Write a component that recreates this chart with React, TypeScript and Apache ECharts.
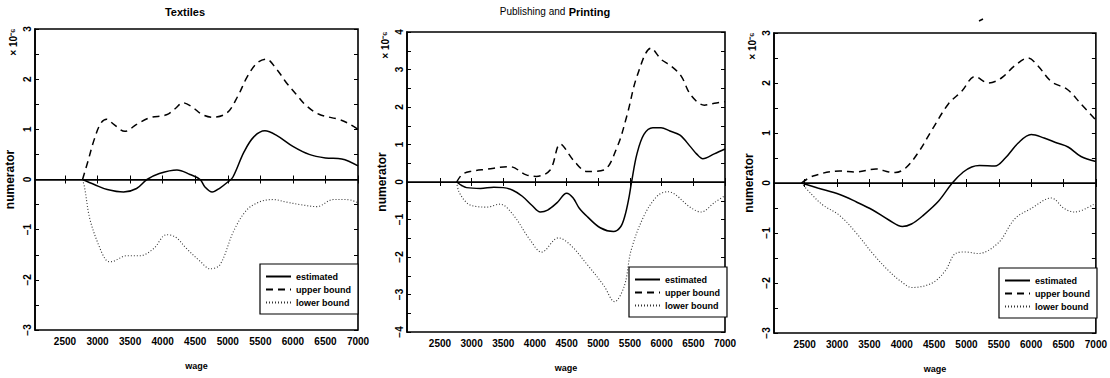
import React, { useEffect, useRef } from 'react';
import * as echarts from 'echarts';

const seriesNames = ['estimated', 'upper bound', 'lower bound'];
const wageTicks = [2500, 3000, 3500, 4000, 4500, 5000, 5500, 6000, 6500, 7000];
const panelTitles = ['Textiles', 'Publishing and Printing', ''];
const scaleNote = '× 10⁻⁶';

// Textiles
const textilesEstimated = [
  [2770, 0], [2950, -0.1], [3150, -0.2], [3400, -0.25], [3600, -0.18], [3760, 0], [3950, 0.12],
  [4220, 0.19], [4420, 0.1], [4575, 0], [4650, -0.15], [4760, -0.25], [4880, -0.17], [5000, -0.05],
  [5080, 0.05], [5250, 0.55], [5400, 0.85], [5570, 0.97], [5750, 0.88], [6000, 0.66], [6250, 0.5],
  [6500, 0.43], [6750, 0.41], [7000, 0.27],
];
const textilesUpper = [
  [2770, 0], [2850, 0.35], [2950, 0.8], [3050, 1.12], [3140, 1.2], [3250, 1.1], [3420, 0.96],
  [3600, 1.1], [3800, 1.23], [4060, 1.29], [4200, 1.42], [4310, 1.53], [4450, 1.45], [4600, 1.3],
  [4770, 1.24], [4990, 1.33], [5150, 1.65], [5300, 2.05], [5450, 2.32], [5590, 2.4], [5750, 2.2],
  [5900, 1.93], [6050, 1.7], [6200, 1.48], [6400, 1.3], [6700, 1.2], [6850, 1.12], [7000, 1.0],
];
const textilesLower = [
  [2770, 0], [2800, -0.15], [2885, -0.8], [3040, -1.38], [3140, -1.62], [3200, -1.64],
  [3450, -1.52], [3650, -1.52], [3860, -1.38], [4060, -1.1], [4200, -1.15], [4370, -1.38],
  [4575, -1.63], [4730, -1.78], [4880, -1.7], [5090, -1.03], [5290, -0.61], [5500, -0.44],
  [5700, -0.4], [5900, -0.45], [6110, -0.5], [6370, -0.54], [6620, -0.4], [6830, -0.4], [7000, -0.46],
];

// Publishing and Printing
const printingEstimated = [
  [2764, 0], [2850, -0.1], [2920, -0.15], [3140, -0.17], [3350, -0.14], [3500, -0.15],
  [3650, -0.22], [3800, -0.38], [3950, -0.62], [4085, -0.8], [4200, -0.75], [4350, -0.55],
  [4500, -0.3], [4600, -0.42], [4700, -0.7], [4830, -0.93], [5030, -1.22], [5240, -1.32],
  [5350, -1.2], [5420, -0.9], [5480, -0.45], [5525, 0], [5610, 0.75], [5720, 1.27], [5860, 1.45],
  [5990, 1.45], [6130, 1.36], [6290, 1.25], [6450, 0.95], [6550, 0.75], [6650, 0.62],
  [6830, 0.75], [7000, 0.88],
];
const printingUpper = [
  [2764, 0], [2850, 0.2], [2974, 0.28], [3237, 0.34], [3600, 0.41], [3863, 0.19], [4020, 0.15],
  [4240, 0.32], [4400, 1.01], [4608, 0.58], [4824, 0.28], [5086, 0.32], [5297, 0.93], [5455, 1.79],
  [5613, 2.83], [5834, 3.57], [5992, 3.27], [6150, 3.09], [6306, 2.83], [6464, 2.31], [6675, 2.05],
  [6833, 2.1], [7000, 2.14],
];
const printingLower = [
  [2764, 0], [2800, -0.26], [2921, -0.55], [3026, -0.64], [3237, -0.67], [3448, -0.59],
  [3658, -0.88], [3921, -1.54], [4106, -1.87], [4369, -1.49], [4560, -1.68], [4824, -2.2],
  [5086, -2.76], [5256, -3.19], [5413, -2.76], [5518, -1.82], [5728, -0.88], [5940, -0.36],
  [6097, -0.26], [6464, -0.69], [6622, -0.8], [6833, -0.55], [7000, -0.36],
];

// Third panel
const thirdEstimated = [
  [2450, 0], [2700, -0.1], [3040, -0.23], [3300, -0.38], [3550, -0.54], [3800, -0.74],
  [4010, -0.87], [4150, -0.82], [4320, -0.66], [4570, -0.36], [4780, 0], [4950, 0.22],
  [5080, 0.32], [5200, 0.35], [5440, 0.34], [5600, 0.5], [5800, 0.8], [6000, 0.97], [6200, 0.9],
  [6400, 0.8], [6570, 0.72], [6770, 0.53], [7000, 0.43],
];
const thirdUpper = [
  [2450, 0], [2630, 0.14], [3040, 0.24], [3290, 0.22], [3600, 0.28], [3800, 0.22], [3900, 0.21],
  [4060, 0.3], [4260, 0.62], [4470, 1.07], [4720, 1.58], [4930, 1.84], [5130, 2.13], [5340, 2.0],
  [5540, 2.1], [5750, 2.35], [5950, 2.5], [6100, 2.35], [6310, 2.03], [6560, 1.87], [6770, 1.58],
  [7000, 1.26],
];
const thirdLower = [
  [2450, 0], [2600, -0.22], [2780, -0.44], [3040, -0.65], [3290, -0.99], [3550, -1.41],
  [3800, -1.76], [4000, -1.98], [4160, -2.09], [4470, -2.0], [4670, -1.76], [4830, -1.41],
  [4980, -1.38], [5180, -1.41], [5490, -1.2], [5750, -0.71], [6000, -0.51], [6310, -0.3],
  [6510, -0.51], [6670, -0.58], [7000, -0.4],
];

const FONT = "'Liberation Sans Narrow', 'Liberation Sans', Arial, sans-serif";

export default function App() {
  const ref = useRef<HTMLDivElement>(null);
  useEffect(() => {
    const chart = echarts.init(ref.current as HTMLDivElement, null, { renderer: 'svg' });
    const panels = [
      { grid: { left: 35, top: 29, width: 323, height: 301 }, xMin: 2040, yMin: -3, yMax: 3,
        data: [textilesEstimated, textilesUpper, textilesLower], legend: { left: 260, top: 264 } },
      { grid: { left: 407, top: 32, width: 318, height: 300 }, xMin: 1980, yMin: -4, yMax: 4,
        data: [printingEstimated, printingUpper, printingLower], legend: { left: 629, top: 267 } },
      { grid: { left: 774, top: 33, width: 322, height: 302 }, xMin: 2025, yMin: -3, yMax: 3,
        data: [thirdEstimated, thirdUpper, thirdLower], legend: { left: 999, top: 268 } },
    ];
    const lineStyles = [
      { color: '#000', width: 1.5, type: 'solid' },
      { color: '#000', width: 1.5, type: [7, 5] },
      { color: '#333', width: 1.1, type: [1, 2] },
    ];
    const grid: any[] = [];
    const xAxis: any[] = [];
    const yAxis: any[] = [];
    const series: any[] = [];
    const legend: any[] = [];
    const graphic: any[] = [];
    panels.forEach((p, i) => {
      grid.push({ ...p.grid, show: true, borderColor: '#000', borderWidth: 1.6, backgroundColor: 'transparent' });
      const tickStyle = { show: true, inside: true, length: 4, lineStyle: { color: '#000', width: 1 } };
      xAxis.push({
        type: 'value', gridIndex: i, min: p.xMin, max: 7000, position: 'bottom',
        axisLine: { show: true, lineStyle: { color: '#000', width: 1.6 } },
        splitLine: { show: false },
        axisTick: { ...tickStyle, customValues: wageTicks },
        axisLabel: {
          customValues: wageTicks, color: '#000', fontSize: 10, fontWeight: 'bold', fontFamily: FONT, margin: 6,
          formatter: (v: number) => String(v),
        },
        name: 'wage', nameLocation: 'middle', nameGap: 31,
        nameTextStyle: { color: '#000', fontSize: 9, fontWeight: 'bold', fontFamily: FONT },
      });
      xAxis.push({
        type: 'value', gridIndex: i, min: p.xMin, max: 7000, position: 'top',
        axisLine: { show: false }, splitLine: { show: false },
        axisTick: { ...tickStyle, customValues: wageTicks },
        axisLabel: { show: false },
      });
      yAxis.push({
        type: 'value', gridIndex: i, min: p.yMin, max: p.yMax, interval: 0.5, position: 'left',
        axisLine: { show: true, lineStyle: { color: '#000', width: 1.6 } },
        splitLine: { show: false },
        axisTick: tickStyle,
        axisLabel: {
          rotate: 90, margin: 3, color: '#000', fontSize: 10, fontWeight: 'bold', fontFamily: FONT,
          formatter: (v: number) => (Number.isInteger(v) ? (v < 0 ? '−' + -v : String(v)) : ''),
        },
        name: 'numerator', nameLocation: 'middle', nameGap: 19, nameRotate: 90,
        nameTextStyle: { color: '#000', fontSize: 12, fontWeight: 'bold', fontFamily: "'Liberation Sans', Arial, sans-serif" },
      });
      yAxis.push({
        type: 'value', gridIndex: i, min: p.yMin, max: p.yMax, interval: 0.5, position: 'right',
        axisLine: { show: false }, splitLine: { show: false },
        axisTick: tickStyle, axisLabel: { show: false },
      });
      p.data.forEach((d, k) => {
        const s: any = {
          type: 'line', name: seriesNames[k], xAxisIndex: 2 * i, yAxisIndex: 2 * i,
          data: d, symbol: 'none', showSymbol: false, smooth: 0.35,
          lineStyle: lineStyles[k], itemStyle: { color: '#000' },
        };
        if (k === 0) {
          s.markLine = {
            silent: true, symbol: ['none', 'none'], label: { show: false },
            lineStyle: { color: '#000', type: 'solid', width: 1 },
            data: [{ yAxis: 0 }],
          };
        }
        series.push(s);
      });
      legend.push({
        left: p.legend.left, top: p.legend.top, orient: 'vertical', selectedMode: false,
        data: seriesNames, itemWidth: 25, itemHeight: 10, itemGap: 4,
        padding: [8, 7, 7, 5], borderColor: '#000', borderWidth: 1.2, backgroundColor: '#fff',
        itemStyle: { color: 'transparent', borderColor: 'transparent', borderWidth: 0 },
        textStyle: { color: '#000', fontSize: 9, fontWeight: 'bold', fontFamily: FONT },
      });
      graphic.push({
        type: 'text', x: p.grid.left - 22, y: p.grid.top + 13, rotation: Math.PI / 2,
        style: { text: scaleNote, fill: '#000', fontSize: 10, fontWeight: 'bold', fontFamily: "'Liberation Sans', Arial, sans-serif", textAlign: 'center', textVerticalAlign: 'middle' },
      });
    });
    graphic.push({
      type: 'text', x: 185, y: 12,
      style: { text: panelTitles[0], fill: '#000', fontSize: 11, fontWeight: 'bold', fontFamily: FONT, textAlign: 'center', textVerticalAlign: 'middle' },
    });
    graphic.push({
      type: 'text', x: 555, y: 12,
      style: {
        text: '{a|Publishing and} {b|Printing}', textAlign: 'center', textVerticalAlign: 'middle',
        rich: {
          a: { fill: '#000', fontSize: 10, fontFamily: FONT, verticalAlign: 'top' },
          b: { fill: '#000', fontSize: 11, fontWeight: 'bold', fontFamily: FONT },
        },
      },
    });
    graphic.push({
      type: 'line', shape: { x1: 979, y1: 21, x2: 983, y2: 19 },
      style: { stroke: '#000', lineWidth: 1.5 },
    });
    chart.setOption({
      animation: false,
      backgroundColor: '#fff',
      grid, xAxis, yAxis, series, legend, graphic,
    });
    return () => chart.dispose();
  }, []);
  return <div ref={ref} style={{ position: 'absolute', left: 0, top: 0, width: 1110, height: 378, background: '#fff' }} />;
}
